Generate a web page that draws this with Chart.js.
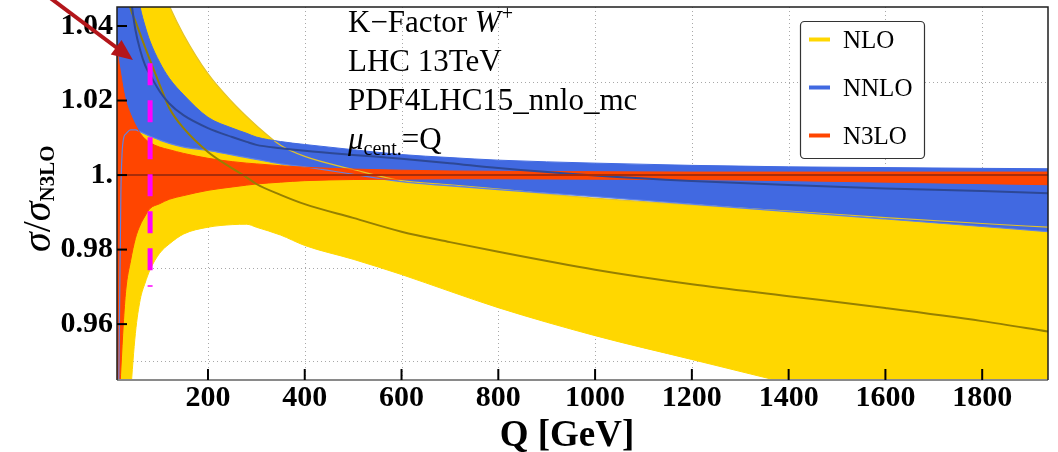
<!DOCTYPE html>
<html>
<head>
<meta charset="utf-8">
<script src="https://cdn.jsdelivr.net/npm/chart.js@4.4.1/dist/chart.umd.min.js"></script>
<style>
html,body{margin:0;padding:0;background:#ffffff;}
#wrap{position:relative;width:1058px;height:452px;}
</style>
</head>
<body>
<div id="wrap"><canvas id="c" width="1058" height="452"></canvas></div>
<script>
// ---------------- data ----------------
const Q        = [12, 15, 20, 25, 30, 40, 50, 60, 70, 80, 100, 120, 150, 200, 250, 280, 300, 350, 400, 500, 600, 700, 800, 1000, 1200, 1400, 1600, 1800, 1936];

const nloHigh  = [1.30, 1.28, 1.25, 1.22, 1.195, 1.15, 1.12, 1.095, 1.077, 1.065, 1.052, 1.0455, 1.0376, 1.0272, 1.0196, 1.0157, 1.0133, 1.0080, 1.0050, 1.0015, 0.9985, 0.9974, 0.9962, 0.9938, 0.9920, 0.9903, 0.9886, 0.9870, 0.9860];
const nloMid   = [1.09, 1.08, 1.065, 1.056, 1.051, 1.0447, 1.0413, 1.0378, 1.0343, 1.0309, 1.0243, 1.0180, 1.0125, 1.0062, 1.0018, 0.9994, 0.9976, 0.9947, 0.9922, 0.9885, 0.9848, 0.9820, 0.9794, 0.9746, 0.9707, 0.9675, 0.9643, 0.9608, 0.9580];
const nloLow   = [0.86, 0.87, 0.89, 0.905, 0.92, 0.941, 0.9575, 0.9666, 0.9710, 0.9745, 0.9790, 0.9815, 0.9842, 0.9860, 0.9867, 0.9868, 0.9860, 0.9839, 0.9811, 0.9774, 0.9733, 0.9688, 0.9644, 0.9569, 0.9505, 0.9441, 0.9377, 0.9313, 0.9270];

const nnloHigh = [1.13, 1.12, 1.10, 1.09, 1.08, 1.065, 1.053, 1.045, 1.040, 1.036, 1.0303, 1.0260, 1.0215, 1.0155, 1.0126, 1.0112, 1.0102, 1.0090, 1.0082, 1.0068, 1.0055, 1.0047, 1.0040, 1.0032, 1.0026, 1.0022, 1.0020, 1.0018, 1.0017];
const nnloMid  = [1.11, 1.095, 1.078, 1.066, 1.058, 1.048, 1.039, 1.0335, 1.0295, 1.0270, 1.0225, 1.0192, 1.0160, 1.0126, 1.0102, 1.0089, 1.0081, 1.0072, 1.0065, 1.0054, 1.0044, 1.0032, 1.0019, 0.9999, 0.9984, 0.9973, 0.9964, 0.9957, 0.9951];
const nnloLow  = [0.90, 0.935, 0.995, 1.0094, 1.0110, 1.0121, 1.0121, 1.0116, 1.0110, 1.0104, 1.0094, 1.0085, 1.0075, 1.0066, 1.0054, 1.0047, 1.0042, 1.0030, 1.0022, 1.0002, 0.9982, 0.9971, 0.9961, 0.9942, 0.9922, 0.9902, 0.9882, 0.9862, 0.9848];

const n3loHigh = [1.034, 1.031, 1.027, 1.023, 1.020, 1.0163, 1.0135, 1.0112, 1.0097, 1.0087, 1.0075, 1.0068, 1.0058, 1.0045, 1.0036, 1.0032, 1.0030, 1.0025, 1.0021, 1.0016, 1.0013, 1.0011, 1.0010, 1.0009, 1.0008, 1.0008, 1.0008, 1.0008, 1.0008];
const n3loMid  = [1, 1, 1, 1, 1, 1, 1, 1, 1, 1, 1, 1, 1, 1, 1, 1, 1, 1, 1, 1, 1, 1, 1, 1, 1, 1, 1, 1, 1];
const n3loLow  = [0.925, 0.935, 0.948, 0.960, 0.969, 0.977, 0.983, 0.9866, 0.9890, 0.9910, 0.9923, 0.9935, 0.9945, 0.9959, 0.9968, 0.9973, 0.9976, 0.9981, 0.9985, 0.9988, 0.9989, 0.9990, 0.9990, 0.9989, 0.9988, 0.9985, 0.9981, 0.9977, 0.9974];

// W mass marker (dashed magenta)
const mwQ = [80.4, 80.4];
const mwV = [1.03, 0.97];

// axis ticks / grid
const xTickVals   = [200, 400, 600, 800, 1000, 1200, 1400, 1600, 1800];
const yTickVals   = [0.96, 0.98, 1.0, 1.02, 1.04];
const yTickLabels = ['0.96', '0.98', '1.', '1.02', '1.04'];
const yGridVals   = [0.95, 0.975, 1.0, 1.025];
const xRange = [12, 1936];
const yRange = [0.945, 1.0451];

// annotation arrow (data coords: tail, tip)
const arrowTail = [-137, 1.0486];
const arrowTip  = [45, 1.0309];

const legendItems = ['NLO', 'NNLO', 'N3LO'];
const legendColors = ['#FFD700', '#4169E1', '#FF4500'];

// ---------------- chart ----------------
const SERIF = "'Liberation Serif','Times New Roman',Times,serif";
const pts = arr => Q.map((q, i) => ({x: q, y: arr[i]}));

function lineDs(label, arr, color, width, extra) {
  return Object.assign({
    label, data: pts(arr), borderColor: color, borderWidth: width,
    pointRadius: 0, fill: false, cubicInterpolationMode: 'monotone', clip: 0
  }, extra || {});
}

function drawRuns(ctx, x0, yb, runs) {
  let x = x0;
  runs.forEach(r => {
    ctx.font = r.font;
    ctx.fillText(r.t, x, yb + (r.dy || 0));
    x += ctx.measureText(r.t).width + (r.kern || 0);
  });
  return x;
}

const decor = {
  id: 'decor',
  beforeDraw(chart) {
    const {ctx, chartArea: a, scales: {x, y}} = chart;
    ctx.save();
    ctx.strokeStyle = '#a8a8a8';
    ctx.lineWidth = 1;
    ctx.setLineDash([1, 3]);
    xTickVals.forEach(v => {
      const p = Math.round(x.getPixelForValue(v)) + 0.5;
      ctx.beginPath(); ctx.moveTo(p, a.top); ctx.lineTo(p, a.bottom); ctx.stroke();
    });
    yGridVals.forEach(v => {
      const p = Math.round(y.getPixelForValue(v)) + 0.5;
      ctx.beginPath(); ctx.moveTo(a.left, p); ctx.lineTo(a.right, p); ctx.stroke();
    });
    ctx.restore();
  },
  afterDatasetsDraw(chart) {
    const {ctx, chartArea: a, scales: {x, y}} = chart;
    ctx.save();
    // frame
    ctx.lineWidth = 2; ctx.strokeStyle = '#8a8a8a';
    ctx.beginPath(); ctx.moveTo(a.left, a.bottom); ctx.lineTo(a.right, a.bottom); ctx.stroke();
    ctx.lineWidth = 1.5; ctx.strokeStyle = '#1e1e1e';
    ctx.beginPath(); ctx.moveTo(a.left, a.bottom); ctx.lineTo(a.left, a.top);
    ctx.lineTo(a.right, a.top); ctx.lineTo(a.right, a.bottom); ctx.stroke();
    // inward ticks
    ctx.lineWidth = 2; ctx.strokeStyle = '#000';
    xTickVals.forEach(v => {
      const p = x.getPixelForValue(v);
      ctx.beginPath(); ctx.moveTo(p, a.bottom); ctx.lineTo(p, a.bottom - 11); ctx.stroke();
    });
    yTickVals.forEach(v => {
      const p = y.getPixelForValue(v);
      ctx.beginPath(); ctx.moveTo(a.left, p); ctx.lineTo(a.left + 10, p); ctx.stroke();
    });
    ctx.restore();
  },
  afterDraw(chart) {
    const {ctx, chartArea: a, scales: {x, y}} = chart;
    ctx.save();
    // arrow
    const tx = x.getPixelForValue(arrowTip[0]), ty = y.getPixelForValue(arrowTip[1]);
    const sx = x.getPixelForValue(arrowTail[0]), sy = y.getPixelForValue(arrowTail[1]);
    const dx = tx - sx, dy = ty - sy, L = Math.hypot(dx, dy);
    const ux = dx / L, uy = dy / L, head = 21, hw = 9;
    const bx = tx - ux * head, by = ty - uy * head;
    ctx.strokeStyle = '#B3161B'; ctx.fillStyle = '#B3161B'; ctx.lineWidth = 4;
    ctx.beginPath(); ctx.moveTo(sx, sy); ctx.lineTo(bx + ux * 2, by + uy * 2); ctx.stroke();
    ctx.beginPath(); ctx.moveTo(tx, ty);
    ctx.lineTo(bx - uy * hw, by + ux * hw);
    ctx.lineTo(bx + uy * hw, by - ux * hw);
    ctx.closePath(); ctx.fill();

    // annotation text
    ctx.fillStyle = '#000';
    ctx.textBaseline = 'alphabetic';
    ctx.textAlign = 'left';
    const f = '31px ' + SERIF, fi = 'italic 31px ' + SERIF, fs = '20px ' + SERIF;
    drawRuns(ctx, 348, 32, [{t: 'K\u2212Factor ', font: f}, {t: 'W', font: fi, kern: 1}, {t: '+', font: fs, dy: -12}]);
    drawRuns(ctx, 348, 71, [{t: 'LHC 13TeV', font: f}]);
    drawRuns(ctx, 348, 110, [{t: 'PDF4LHC15_nnlo_mc', font: f}]);
    drawRuns(ctx, 348, 149, [{t: '\u03BC', font: fi}, {t: 'cent.', font: fs, dy: 6}, {t: '=Q', font: f}]);

    // legend box
    const lx = 800.5, ly = 21.5, lw = 124, lh = 137, r = 4;
    ctx.fillStyle = '#fff'; ctx.strokeStyle = '#333'; ctx.lineWidth = 1.2;
    ctx.beginPath();
    ctx.moveTo(lx + r, ly); ctx.lineTo(lx + lw - r, ly); ctx.arcTo(lx + lw, ly, lx + lw, ly + r, r);
    ctx.lineTo(lx + lw, ly + lh - r); ctx.arcTo(lx + lw, ly + lh, lx + lw - r, ly + lh, r);
    ctx.lineTo(lx + r, ly + lh); ctx.arcTo(lx, ly + lh, lx, ly + lh - r, r);
    ctx.lineTo(lx, ly + r); ctx.arcTo(lx, ly, lx + r, ly, r);
    ctx.closePath(); ctx.fill(); ctx.stroke();
    const ys = [39.5, 87.5, 135.5];
    legendItems.forEach((t, i) => {
      ctx.strokeStyle = legendColors[i]; ctx.lineWidth = 4;
      ctx.beginPath(); ctx.moveTo(809, ys[i]); ctx.lineTo(830, ys[i]); ctx.stroke();
      ctx.fillStyle = '#000'; ctx.font = '25px ' + SERIF;
      ctx.fillText(t, 843, ys[i] + 8.5);
    });

    // x axis title
    ctx.font = 'bold 37px ' + SERIF;
    ctx.textAlign = 'center';
    ctx.fillText('Q [GeV]', 567, 446);

    // y axis title (rotated)
    ctx.save();
    ctx.translate(50, 252);
    ctx.rotate(-Math.PI / 2);
    ctx.textAlign = 'left';
    drawRuns(ctx, 0, 0, [
      {t: '\u03C3', font: 'italic 40px ' + SERIF},
      {t: '/', font: '40px ' + SERIF},
      {t: '\u03C3', font: 'italic 40px ' + SERIF},
      {t: 'N3LO', font: 'bold 21px ' + SERIF, dy: 4}
    ]);
    ctx.restore();
    ctx.restore();
  }
};

new Chart(document.getElementById('c'), {
  type: 'line',
  data: {
    datasets: [
      {label: 'mW', data: [{x: mwQ[0], y: mwV[0]}, {x: mwQ[1], y: mwV[1]}], borderColor: '#FF00FF',
       borderWidth: 5, borderDash: [22, 15], borderCapStyle: 'butt', pointRadius: 0, fill: false, tension: 0},
      lineDs('N3LO central', n3loMid, 'rgb(168,45,10)', 2),
      lineDs('NNLO central', nnloMid, 'rgb(45,72,150)', 2),
      lineDs('NLO central', nloMid, 'rgb(150,128,0)', 2),
      lineDs('N3LO', n3loHigh, '#FF4500', 1, {fill: '+1', backgroundColor: '#FF4500'}),
      lineDs('N3LO low', n3loLow, '#FF4500', 1),
      lineDs('NNLO', nnloHigh, '#4169E1', 1, {fill: '+1', backgroundColor: '#4169E1'}),
      lineDs('NNLO low', nnloLow, 'rgb(95,130,230)', 1.2),
      lineDs('NLO', nloHigh, 'rgb(228,195,40)', 1.2, {fill: '+1', backgroundColor: '#FFD700'}),
      lineDs('NLO low', nloLow, '#FFD700', 1)
    ]
  },
  options: {
    responsive: false,
    animation: false,
    devicePixelRatio: 1,
    layout: {padding: {top: 7, right: 10, left: 0, bottom: 0}},
    plugins: {
      legend: {display: false},
      tooltip: {enabled: false},
      filler: {drawTime: 'beforeDatasetsDraw'}
    },
    scales: {
      x: {
        type: 'linear', min: xRange[0], max: xRange[1],
        grid: {display: false, drawTicks: false},
        border: {display: false},
        afterBuildTicks: s => { s.ticks = xTickVals.map(v => ({value: v})); },
        afterFit: s => { s.height = 72; s.paddingLeft = 0; s.paddingRight = 0; },
        ticks: {
          autoSkip: false, maxRotation: 0, padding: 0, color: '#000',
          font: {family: SERIF, size: 30, weight: 'bold'},
          callback: v => String(v)
        }
      },
      y: {
        type: 'linear', min: yRange[0], max: yRange[1],
        grid: {display: false, drawTicks: false},
        border: {display: false},
        afterBuildTicks: s => { s.ticks = yTickVals.map(v => ({value: v})); },
        afterFit: s => { s.width = 117; s.paddingTop = 0; s.paddingBottom = 0; },
        ticks: {
          autoSkip: false, padding: 4, color: '#000',
          font: {family: SERIF, size: 30, weight: 'bold'},
          callback: (v, i) => yTickLabels[i]
        }
      }
    }
  },
  plugins: [decor]
});
</script>
</body>
</html>
